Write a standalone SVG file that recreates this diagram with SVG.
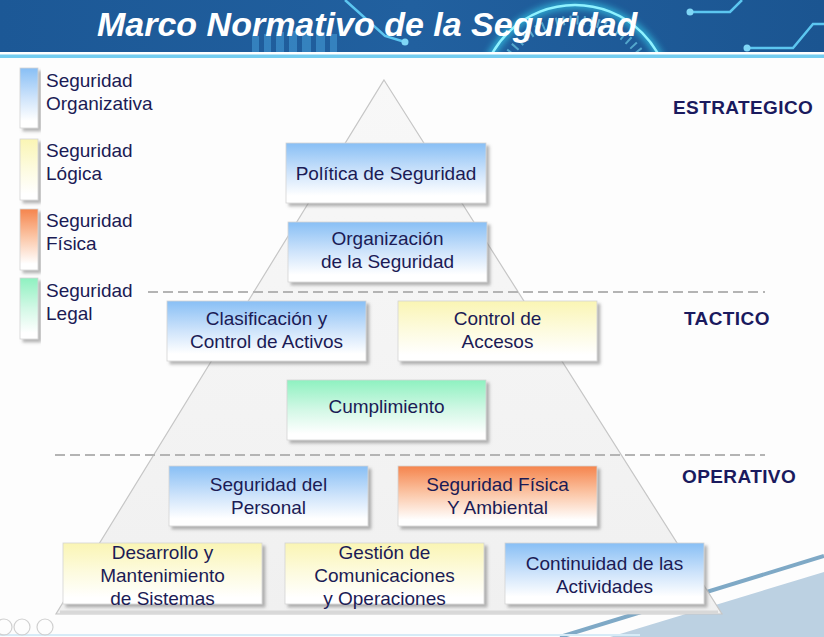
<svg xmlns="http://www.w3.org/2000/svg" width="824" height="637" viewBox="0 0 824 637">
<defs>
<linearGradient id="hdr" x1="0" y1="0" x2="1" y2="0">
<stop offset="0" stop-color="#1c5896"/><stop offset="0.5" stop-color="#21609f"/><stop offset="1" stop-color="#1b5591"/>
</linearGradient>
<linearGradient id="gBlue" x1="0" y1="0" x2="0" y2="1">
<stop offset="0" stop-color="#88bff5"/><stop offset="0.5" stop-color="#cfe4fb"/><stop offset="0.88" stop-color="#ffffff"/>
</linearGradient>
<linearGradient id="gYel" x1="0" y1="0" x2="0" y2="1">
<stop offset="0" stop-color="#faf5b4"/><stop offset="0.5" stop-color="#fdfbe0"/><stop offset="0.9" stop-color="#ffffff"/>
</linearGradient>
<linearGradient id="gOra" x1="0" y1="0" x2="0" y2="1">
<stop offset="0" stop-color="#f5844c"/><stop offset="0.45" stop-color="#fbc5a5"/><stop offset="0.9" stop-color="#ffffff"/>
</linearGradient>
<linearGradient id="gGrn" x1="0" y1="0" x2="0" y2="1">
<stop offset="0" stop-color="#8ef1c0"/><stop offset="0.5" stop-color="#d3f8e6"/><stop offset="0.9" stop-color="#ffffff"/>
</linearGradient>
<linearGradient id="gPyr" x1="0" y1="0" x2="0" y2="1">
<stop offset="0" stop-color="#f8f8f8"/><stop offset="1" stop-color="#f0f0f0"/>
</linearGradient>
<filter id="sh" x="-10%" y="-10%" width="125%" height="135%">
<feDropShadow dx="3" dy="3" stdDeviation="1.6" flood-color="#7a7a7a" flood-opacity="0.55"/>
</filter>
<filter id="glow" x="-30%" y="-30%" width="160%" height="160%">
<feGaussianBlur stdDeviation="3"/>
</filter>
<clipPath id="hclip"><rect x="0" y="0" width="824" height="52"/></clipPath>
<style>
.box{stroke:#d4d4d4;stroke-width:0.8;filter:url(#sh)}
.bar{stroke:#d4d4d4;stroke-width:0.8;filter:url(#sh)}
.t{font-family:"Liberation Sans",Arial,sans-serif;font-size:19px;fill:#1b1b55;text-anchor:middle}
.lg{font-family:"Liberation Sans",Arial,sans-serif;font-size:19px;fill:#1b1b55}
.lvl{font-family:"Liberation Sans",Arial,sans-serif;font-size:19px;font-weight:bold;fill:#1a1a5e;letter-spacing:0.4px}
.dash{stroke:#b4b4b4;stroke-width:2;stroke-dasharray:10 5;fill:none}
.circ{stroke:#5cc6f0;stroke-width:2.5;fill:none}
</style>
</defs>

<rect x="0" y="0" width="824" height="637" fill="#fdfdfd"/>

<!-- header -->
<g id="header">
<rect x="0" y="0" width="824" height="52" fill="url(#hdr)"/>
<g clip-path="url(#hclip)">
<g fill="#4aa6e0" opacity="0.5">
<rect x="252" y="36" width="7" height="16"/><rect x="264" y="34" width="7" height="18"/><rect x="276" y="32" width="8" height="20"/><rect x="289" y="31" width="8" height="21"/><rect x="302" y="31" width="9" height="21"/><rect x="316" y="32" width="9" height="20"/><rect x="330" y="34" width="7" height="18"/>
</g>
<circle cx="575" cy="100" r="95" fill="none" stroke="#38d8f2" stroke-width="8" opacity="0.6" filter="url(#glow)"/>
<circle cx="575" cy="100" r="95" fill="none" stroke="#8ff2ff" stroke-width="2.5"/>
<circle cx="575" cy="100" r="80" fill="none" stroke="#7fe6f8" stroke-width="9" stroke-dasharray="2 5" opacity="0.55"/>
<polyline class="circ" points="345,0 385,36 405,42"/>
<circle cx="405" cy="42" r="3.5" fill="#7fd6f6"/>
<polyline class="circ" points="690,12 730,12 742,0"/>
<circle cx="690" cy="12" r="3.5" fill="#7fd6f6"/>
<polyline class="circ" points="747,48 793,48 813,24 824,24"/>
<circle cx="747" cy="48" r="3.5" fill="#7fd6f6"/>
</g>
<rect x="0" y="52" width="824" height="2.5" fill="#ffffff"/>
<rect x="0" y="54.5" width="824" height="3.5" fill="#74cdf0"/>
<text x="97" y="36" font-family="'Liberation Sans',Arial,sans-serif" font-size="34" font-weight="bold" font-style="italic" fill="#ffffff">Marco Normativo de la Seguridad</text>
</g>

<!-- bottom decorations -->
<g id="decor">
<polygon points="610,637 824,572 824,637" fill="#bcd1e2"/>
<line x1="560" y1="637" x2="824" y2="556" stroke="#7fa9c6" stroke-width="4"/>
<line x1="0" y1="635" x2="640" y2="635" stroke="#d6ebf7" stroke-width="2"/>
<g fill="none" stroke="#d0d0d0" stroke-width="1.2">
<circle cx="4" cy="627" r="8"/><circle cx="22" cy="627" r="8"/><circle cx="45" cy="627" r="8"/>
</g>
</g>

<!-- pyramid -->
<g id="pyramid">
<polygon points="384,80 722,614 56,614" fill="url(#gPyr)" stroke="#c6c6c6" stroke-width="1.2"/>
<line x1="60" y1="612" x2="718" y2="612" stroke="#d8d8d8" stroke-width="3"/>
</g>

<!-- legend -->
<g id="legend-organizativa">
<rect class="bar" x="20" y="68" width="18" height="60" fill="url(#gBlue)"/>
<text class="lg" x="46" y="87">Seguridad</text><text class="lg" x="46" y="110">Organizativa</text>
</g>
<g id="legend-logica">
<rect class="bar" x="20" y="139" width="18" height="61" fill="url(#gYel)"/>
<text class="lg" x="46" y="157">Seguridad</text><text class="lg" x="46" y="180">Lógica</text>
</g>
<g id="legend-fisica">
<rect class="bar" x="20" y="209" width="18" height="61" fill="url(#gOra)"/>
<text class="lg" x="46" y="227">Seguridad</text><text class="lg" x="46" y="250">Física</text>
</g>
<g id="legend-legal">
<rect class="bar" x="20" y="278" width="18" height="61" fill="url(#gGrn)"/>
<text class="lg" x="46" y="297">Seguridad</text><text class="lg" x="46" y="320">Legal</text>
</g>

<!-- separators -->
<g id="separators">
<line class="dash" x1="148" y1="292" x2="765" y2="292"/>
<line class="dash" x1="55" y1="455" x2="765" y2="455"/>
</g>

<!-- levels -->
<g id="levels">
<text class="lvl" x="673" y="114">ESTRATEGICO</text>
<text class="lvl" x="684" y="325">TACTICO</text>
<text class="lvl" x="682" y="483">OPERATIVO</text>
</g>

<!-- nodes -->
<g id="politica">
<rect class="box" x="286" y="143" width="200" height="60" fill="url(#gBlue)"/>
<text class="t" x="386" y="180">Política de Seguridad</text>
</g>
<g id="organizacion">
<rect class="box" x="288" y="222" width="199" height="60" fill="url(#gBlue)"/>
<text class="t" x="387.5" y="245">Organización</text><text class="t" x="387.5" y="268">de la Seguridad</text>
</g>
<g id="clasificacion">
<rect class="box" x="167" y="301" width="199" height="60" fill="url(#gBlue)"/>
<text class="t" x="266.5" y="325">Clasificación y</text><text class="t" x="266.5" y="348">Control de Activos</text>
</g>
<g id="accesos">
<rect class="box" x="398" y="301" width="199" height="60" fill="url(#gYel)"/>
<text class="t" x="497.5" y="325">Control de</text><text class="t" x="497.5" y="348">Accesos</text>
</g>
<g id="cumplimiento">
<rect class="box" x="287" y="380" width="199" height="60" fill="url(#gGrn)"/>
<text class="t" x="386.5" y="413">Cumplimiento</text>
</g>
<g id="personal">
<rect class="box" x="169" y="466" width="199" height="60" fill="url(#gBlue)"/>
<text class="t" x="268.5" y="491">Seguridad del</text><text class="t" x="268.5" y="514">Personal</text>
</g>
<g id="fisica">
<rect class="box" x="398" y="466" width="199" height="60" fill="url(#gOra)"/>
<text class="t" x="497.5" y="491">Seguridad Física</text><text class="t" x="497.5" y="514">Y Ambiental</text>
</g>
<g id="desarrollo">
<rect class="box" x="63" y="543" width="199" height="61" fill="url(#gYel)"/>
<text class="t" x="162.5" y="559">Desarrollo y</text><text class="t" x="162.5" y="582">Mantenimiento</text><text class="t" x="162.5" y="605">de Sistemas</text>
</g>
<g id="gestion">
<rect class="box" x="285" y="543" width="199" height="61" fill="url(#gYel)"/>
<text class="t" x="384.5" y="559">Gestión de</text><text class="t" x="384.5" y="582">Comunicaciones</text><text class="t" x="384.5" y="605">y Operaciones</text>
</g>
<g id="continuidad">
<rect class="box" x="505" y="543" width="199" height="61" fill="url(#gBlue)"/>
<text class="t" x="604.5" y="570">Continuidad de las</text><text class="t" x="604.5" y="593">Actividades</text>
</g>
<g id="connectors"></g>
</svg>
